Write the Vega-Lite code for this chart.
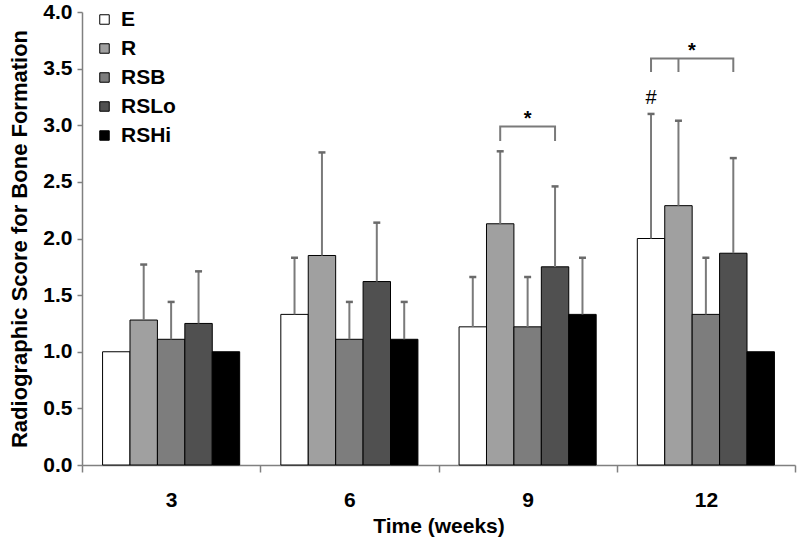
{
  "$schema": "https://vega.github.io/schema/vega-lite/v6.json",
  "width": 713,
  "height": 453,
  "autosize": {"type": "none"},
  "padding": {"left": 82, "top": 12, "right": 5, "bottom": 82},
  "background": "white",
  "config": {
    "font": "Liberation Sans",
    "view": {"stroke": null},
    "axis": {
      "domainColor": "#808080",
      "domainWidth": 1.5,
      "tickColor": "#808080",
      "tickWidth": 1.5,
      "labelColor": "black",
      "labelFont": "Liberation Sans",
      "labelFontWeight": "bold",
      "labelFontSize": 21,
      "titleFont": "Liberation Sans",
      "titleFontWeight": "bold",
      "titleFontSize": 21,
      "titleColor": "black",
      "grid": false
    }
  },
  "datasets": {
    "bars": [
      {"week": "3", "group": "E", "value": 1.0, "upper": null},
      {"week": "3", "group": "R", "value": 1.28, "upper": 1.77},
      {"week": "3", "group": "RSB", "value": 1.11, "upper": 1.44},
      {"week": "3", "group": "RSLo", "value": 1.25, "upper": 1.71},
      {"week": "3", "group": "RSHi", "value": 1.0, "upper": null},
      {"week": "6", "group": "E", "value": 1.33, "upper": 1.83},
      {"week": "6", "group": "R", "value": 1.85, "upper": 2.76},
      {"week": "6", "group": "RSB", "value": 1.11, "upper": 1.44},
      {"week": "6", "group": "RSLo", "value": 1.62, "upper": 2.14},
      {"week": "6", "group": "RSHi", "value": 1.11, "upper": 1.44},
      {"week": "9", "group": "E", "value": 1.22, "upper": 1.66},
      {"week": "9", "group": "R", "value": 2.13, "upper": 2.77},
      {"week": "9", "group": "RSB", "value": 1.22, "upper": 1.66},
      {"week": "9", "group": "RSLo", "value": 1.75, "upper": 2.46},
      {"week": "9", "group": "RSHi", "value": 1.33, "upper": 1.83},
      {"week": "12", "group": "E", "value": 2.0, "upper": 3.1},
      {"week": "12", "group": "R", "value": 2.29, "upper": 3.04},
      {"week": "12", "group": "RSB", "value": 1.33, "upper": 1.83},
      {"week": "12", "group": "RSLo", "value": 1.87, "upper": 2.71},
      {"week": "12", "group": "RSHi", "value": 1.0, "upper": null}
    ],
    "brackets": [
      {"id": "b9", "k": 1, "week": "9", "group": "R", "y": 2.86},
      {"id": "b9", "k": 2, "week": "9", "group": "R", "y": 2.99},
      {"id": "b9", "k": 3, "week": "9", "group": "RSLo", "y": 2.99},
      {"id": "b9", "k": 4, "week": "9", "group": "RSLo", "y": 2.86},
      {"id": "b12", "k": 1, "week": "12", "group": "E", "y": 3.47},
      {"id": "b12", "k": 2, "week": "12", "group": "E", "y": 3.59},
      {"id": "b12", "k": 3, "week": "12", "group": "RSLo", "y": 3.59},
      {"id": "b12", "k": 4, "week": "12", "group": "RSLo", "y": 3.47},
      {"id": "b12m", "k": 1, "week": "12", "group": "R", "y": 3.47},
      {"id": "b12m", "k": 2, "week": "12", "group": "R", "y": 3.59}
    ],
    "star9": [{"week": "9", "group": "RSB", "y": 3.0, "label": "*"}],
    "star12": [{"week": "12", "group": "RSB", "y": 3.6, "label": "*"}],
    "hash": [{"week": "12", "group": "E", "y": 3.19, "label": "#"}]
  },
  "encoding": {
    "x": {
      "field": "week",
      "type": "nominal",
      "sort": ["3", "6", "9", "12"],
      "scale": {"domain": ["3", "6", "9", "12"], "paddingInner": 0, "paddingOuter": 0},
      "axis": {
        "title": "Time (weeks)",
        "labelAngle": 0,
        "tickBand": "extent",
        "tickSize": 7,
        "labelPadding": 17,
        "titlePadding": 5
      }
    },
    "xOffset": {
      "field": "group",
      "type": "nominal",
      "sort": ["E", "R", "RSB", "RSLo", "RSHi"],
      "scale": {"domain": ["E", "R", "RSB", "RSLo", "RSHi"], "paddingInner": 0, "paddingOuter": 0.75}
    }
  },
  "layer": [
    {
      "data": {"name": "bars"},
      "mark": {"type": "bar", "stroke": "black", "strokeWidth": 1},
      "encoding": {
        "y": {
          "field": "value",
          "type": "quantitative",
          "scale": {"domain": [0, 4], "nice": false, "zero": true},
          "axis": {
            "title": "Radiographic Score  for Bone Formation",
            "values": [0, 0.5, 1, 1.5, 2, 2.5, 3, 3.5, 4],
            "format": ".1f",
            "tickSize": 5,
            "labelPadding": 5,
            "titlePadding": 11,
            "titleFontSize": 22
          }
        },
        "color": {
          "field": "group",
          "type": "nominal",
          "scale": {
            "domain": ["E", "R", "RSB", "RSLo", "RSHi"],
            "range": ["#ffffff", "#a0a0a0", "#7d7d7d", "#505050", "#000000"]
          },
          "legend": {
            "orient": "none",
            "legendX": 12,
            "legendY": -3,
            "title": null,
            "symbolType": "square",
            "symbolSize": 90,
            "symbolStrokeColor": "black",
            "symbolStrokeWidth": 1,
            "symbolOpacity": 1,
            "labelFont": "Liberation Sans",
            "labelFontWeight": "bold",
            "labelFontSize": 21,
            "labelColor": "black",
            "labelOffset": 6,
            "rowPadding": 7
          }
        }
      }
    },
    {
      "data": {"name": "bars"},
      "transform": [{"filter": "datum.upper != null"}],
      "mark": {"type": "rule", "color": "#7a7a7a", "strokeWidth": 2},
      "encoding": {
        "y": {"field": "value", "type": "quantitative"},
        "y2": {"field": "upper"}
      }
    },
    {
      "data": {"name": "bars"},
      "transform": [{"filter": "datum.upper != null"}],
      "mark": {"type": "tick", "orient": "horizontal", "color": "#6a6a6a", "size": 7, "thickness": 2.5, "opacity": 1},
      "encoding": {
        "y": {"field": "upper", "type": "quantitative"}
      }
    },
    {
      "data": {"name": "brackets"},
      "mark": {"type": "line", "color": "#7a7a7a", "strokeWidth": 2, "interpolate": "linear"},
      "encoding": {
        "y": {"field": "y", "type": "quantitative"},
        "detail": {"field": "id"},
        "order": {"field": "k", "type": "quantitative"}
      }
    },
    {
      "data": {"name": "star9"},
      "mark": {"type": "text", "font": "Liberation Sans", "fontSize": 20, "fontWeight": "bold", "baseline": "alphabetic", "align": "center", "color": "black"},
      "encoding": {
        "y": {"field": "y", "type": "quantitative"},
        "text": {"field": "label"}
      }
    },
    {
      "data": {"name": "star12"},
      "mark": {"type": "text", "font": "Liberation Sans", "fontSize": 20, "fontWeight": "bold", "baseline": "alphabetic", "align": "center", "dx": -14, "color": "black"},
      "encoding": {
        "y": {"field": "y", "type": "quantitative"},
        "text": {"field": "label"}
      }
    },
    {
      "data": {"name": "hash"},
      "mark": {"type": "text", "font": "Liberation Sans", "fontSize": 20, "baseline": "alphabetic", "align": "center", "color": "black"},
      "encoding": {
        "y": {"field": "y", "type": "quantitative"},
        "text": {"field": "label"}
      }
    }
  ]
}
